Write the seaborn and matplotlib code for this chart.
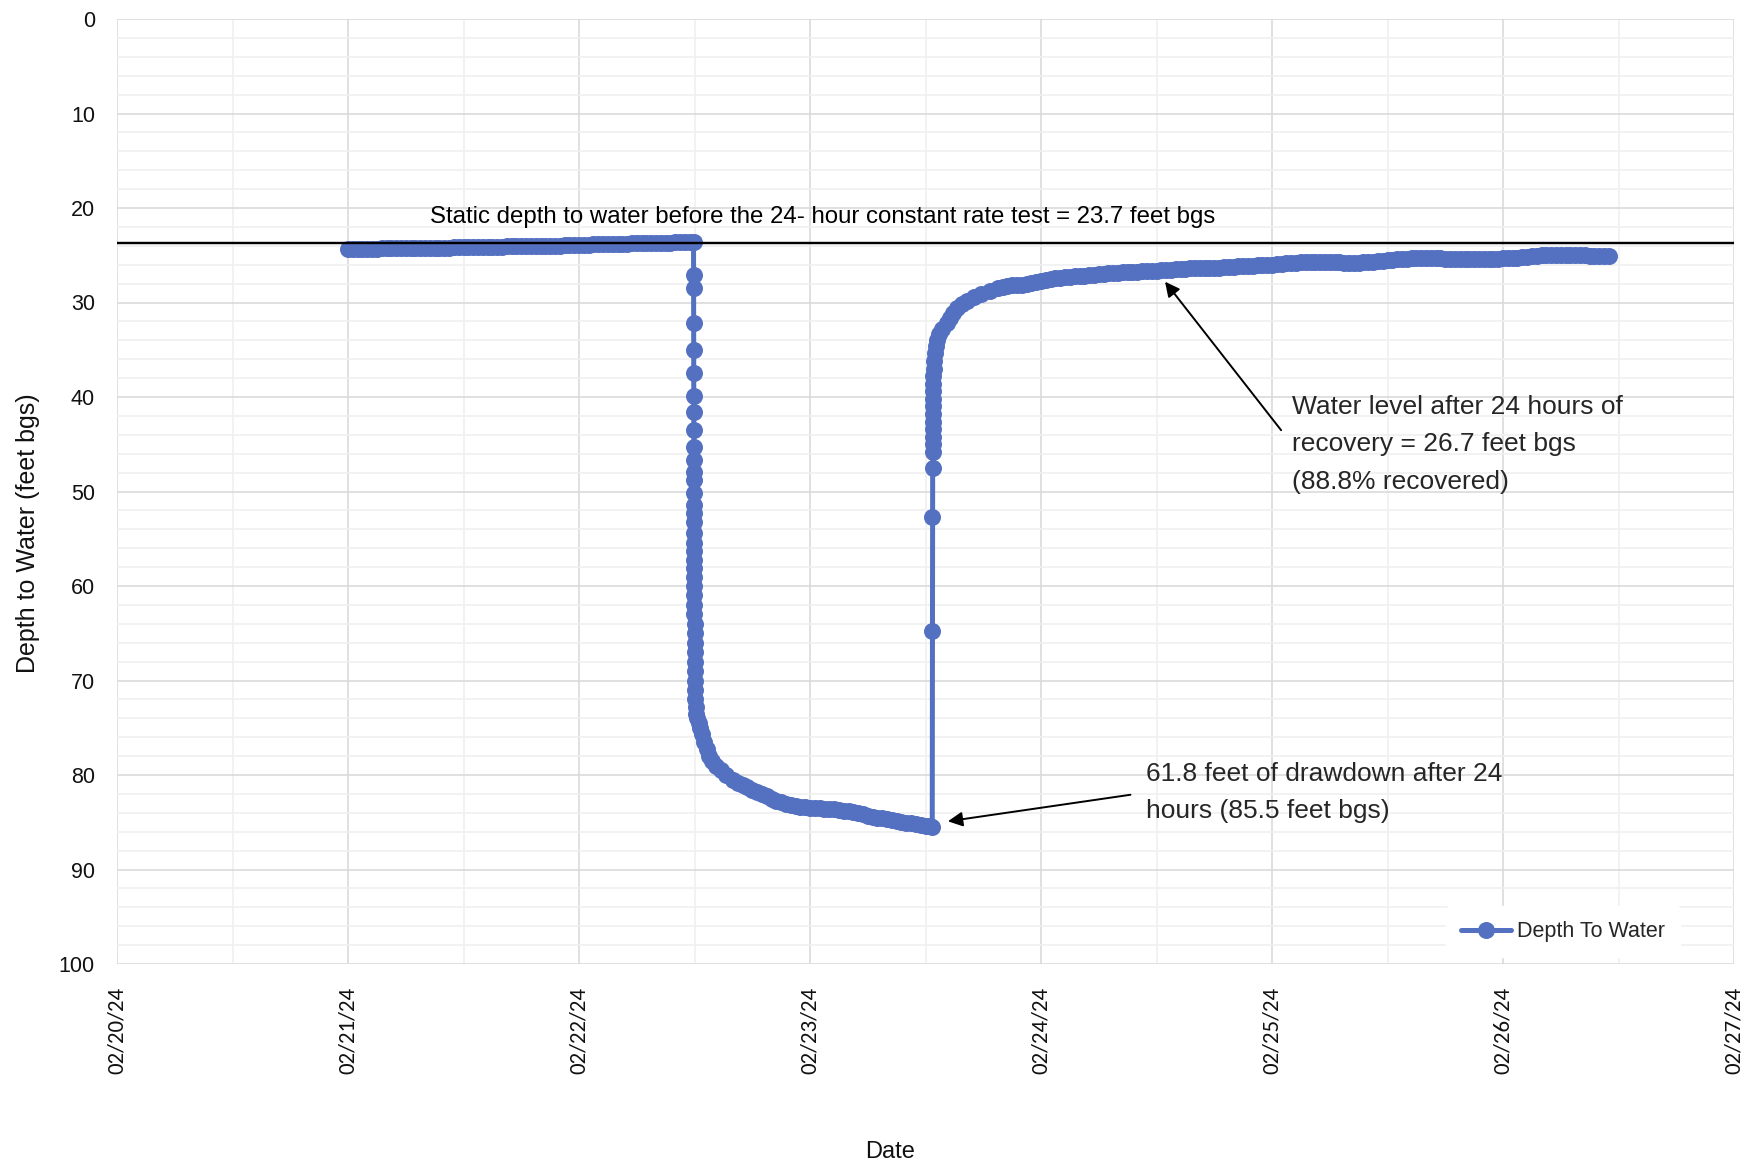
import numpy as np
import pandas as pd
import matplotlib
matplotlib.use("Agg")
import matplotlib.pyplot as plt
import matplotlib.dates as mdates
from matplotlib.ticker import MultipleLocator
import seaborn as sns

# ---------------- data (hours since 2024-02-21 00:00, depth in feet bgs) ----------------
START = "2024-02-21 00:00"

static_hours = [0.0, 0.5, 1.0, 1.5, 2.0, 2.5, 3.0, 3.5, 4.0, 4.5,
                5.0, 5.5, 6.0, 6.5, 7.0, 7.5, 8.0, 8.5, 9.0, 9.5,
                10.0, 10.5, 11.0, 11.5, 12.0, 12.5, 13.0, 13.5, 14.0, 14.5,
                15.0, 15.5, 16.0, 16.5, 17.0, 17.5, 18.0, 18.5, 19.0, 19.5,
                20.0, 20.5, 21.0, 21.5, 22.0, 22.5, 23.0, 23.5, 24.0, 24.5,
                25.0, 25.5, 26.0, 26.5, 27.0, 27.5, 28.0, 28.5, 29.0, 29.5,
                30.0, 30.5, 31.0, 31.5, 32.0, 32.5, 33.0, 33.5, 34.0, 34.5,
                35.0, 35.5, 35.9]
static_depth = [24.3, 24.3, 24.3, 24.3, 24.3, 24.3, 24.3, 24.2, 24.2, 24.2,
                24.2, 24.2, 24.2, 24.2, 24.2, 24.2, 24.2, 24.2, 24.2, 24.2,
                24.2, 24.2, 24.1, 24.1, 24.1, 24.1, 24.1, 24.1, 24.1, 24.1,
                24.1, 24.1, 24.1, 24.0, 24.0, 24.0, 24.0, 24.0, 24.0, 24.0,
                24.0, 24.0, 24.0, 24.0, 24.0, 23.9, 23.9, 23.9, 23.9, 23.9,
                23.9, 23.8, 23.8, 23.8, 23.8, 23.8, 23.8, 23.8, 23.8, 23.7,
                23.7, 23.7, 23.7, 23.7, 23.7, 23.7, 23.7, 23.7, 23.6, 23.6,
                23.6, 23.6, 23.6]

pumping_hours = [35.910, 35.912, 35.914, 35.916, 35.918, 35.920, 35.922, 35.924, 35.926, 35.928,
                 35.930, 35.933, 35.936, 35.939, 35.942, 35.945, 35.950, 35.955,
                 35.960, 35.965, 35.970, 35.975, 35.980, 35.985, 35.990, 35.995, 36.000, 36.005,
                 36.010, 36.015, 36.020, 36.030, 36.040,
                 36.05, 36.07, 36.12, 36.2, 36.3, 36.45, 36.57, 36.75, 37.0, 37.25,
                 37.5, 37.85, 38.25, 38.75, 39.3,
                 40.0, 40.5, 41.0, 41.5, 42.0, 42.5, 43.0, 43.5, 44.0, 44.5,
                 45.0, 45.5, 46.0, 46.5, 47.0, 47.5, 48.0, 48.5, 49.0, 49.5,
                 50.0, 50.5, 51.0, 51.5, 52.0, 52.5, 53.0, 53.5, 54.0, 54.5,
                 55.0, 55.5, 56.0, 56.5, 57.0, 57.5, 58.0, 58.5, 59.0, 59.5,
                 60.0, 60.5, 60.7]
pumping_depth = [27.1, 28.5, 32.2, 35.0, 37.5, 39.9, 41.6, 43.5, 45.3, 46.7,
                 47.9, 48.8, 50.2, 51.4, 52.3, 53.2, 54.4, 55.4,
                 56.3, 57.2, 58.1, 59.0, 60.0, 61.0, 62.0, 63.0, 64.0, 65.0,
                 66.0, 67.0, 68.0, 69.0, 70.0,
                 71.0, 72.0, 72.8, 73.5, 74.0, 74.5, 75.0, 75.7, 76.5, 77.3,
                 78.0, 78.5, 79.0, 79.5, 80.0,
                 80.5, 80.8, 81.1, 81.3, 81.6, 81.8, 82.0, 82.2, 82.5, 82.7,
                 82.9, 83.1, 83.2, 83.3, 83.4, 83.4, 83.5, 83.5, 83.5, 83.6,
                 83.6, 83.6, 83.7, 83.8, 83.8, 83.9, 84.0, 84.1, 84.3, 84.4,
                 84.5, 84.6, 84.7, 84.8, 84.9, 85.0, 85.1, 85.1, 85.2, 85.3,
                 85.4, 85.4, 85.5]

recovery_hours = [60.72, 60.725, 60.73, 60.735, 60.74, 60.745, 60.75, 60.755, 60.76, 60.77,
                  60.78, 60.79, 60.80, 60.82, 60.84, 60.88, 60.95, 61.05, 61.16, 61.4,
                  61.7, 62.2, 62.5, 62.86, 63.3, 63.8, 64.3, 65.0, 65.8, 66.7,
                  67.5, 68.0, 68.5, 69.0, 69.5, 70.0, 70.5, 71.0, 71.5, 72.0,
                  72.5, 73.0, 73.5, 74.0, 74.5, 75.0, 75.5, 76.0, 76.5, 77.0,
                  77.5, 78.0, 78.5, 79.0, 79.5, 80.0, 80.5, 81.0, 81.5, 82.0,
                  82.5, 83.0, 83.5, 84.0, 84.5, 85.0, 85.5, 86.0, 86.5, 87.0,
                  87.5, 88.0, 88.5, 89.0, 89.5, 90.0, 90.5, 91.0, 91.5, 92.0,
                  92.5, 93.0, 93.5, 94.0, 94.5, 95.0, 95.5, 96.0, 96.5, 97.0,
                  97.5, 98.0, 98.5, 99.0, 99.5, 100.0, 100.5, 101.0, 101.5, 102.0,
                  102.5, 103.0, 103.5, 104.0, 104.5, 105.0, 105.5, 106.0, 106.5, 107.0,
                  107.5, 108.0, 108.5, 109.0, 109.5, 110.0, 110.5, 111.0, 111.5, 112.0,
                  112.5, 113.0, 113.5, 114.0, 114.5, 115.0, 115.5, 116.0, 116.5, 117.0,
                  117.5, 118.0, 118.5, 119.0, 119.5, 120.0, 120.5, 121.0, 121.5, 122.0,
                  122.5, 123.0, 123.5, 124.0, 124.5, 125.0, 125.5, 126.0, 126.5, 127.0,
                  127.5, 128.0, 128.5, 129.0, 129.5, 130.0, 130.5, 131.0]
recovery_depth = [64.8, 52.7, 47.5, 45.8, 45.0, 44.2, 43.4, 42.6, 41.8, 41.0,
                  40.2, 39.4, 38.6, 37.8, 37.0, 36.2, 35.3, 34.6, 34.0, 33.3,
                  32.8, 32.2, 31.6, 31.1, 30.6, 30.2, 29.8, 29.4, 29.1, 28.8,
                  28.5, 28.4, 28.3, 28.2, 28.1, 28.1, 28.0, 27.9, 27.8, 27.7,
                  27.6, 27.5, 27.4, 27.4, 27.3, 27.3, 27.2, 27.2, 27.2, 27.1,
                  27.1, 27.0, 27.0, 26.9, 26.9, 26.9, 26.8, 26.8, 26.8, 26.8,
                  26.7, 26.7, 26.7, 26.7, 26.6, 26.6, 26.6, 26.5, 26.5, 26.5,
                  26.4, 26.4, 26.4, 26.4, 26.3, 26.3, 26.3, 26.2, 26.2, 26.2,
                  26.1, 26.1, 26.1, 26.1, 26.0, 26.0, 26.0, 26.0, 25.9, 25.9,
                  25.8, 25.8, 25.8, 25.7, 25.7, 25.7, 25.7, 25.7, 25.7, 25.7,
                  25.7, 25.7, 25.8, 25.8, 25.8, 25.8, 25.7, 25.7, 25.7, 25.6,
                  25.6, 25.5, 25.5, 25.4, 25.4, 25.4, 25.3, 25.3, 25.3, 25.3,
                  25.3, 25.3, 25.3, 25.4, 25.4, 25.4, 25.4, 25.4, 25.4, 25.4,
                  25.4, 25.4, 25.4, 25.4, 25.4, 25.3, 25.3, 25.3, 25.3, 25.2,
                  25.2, 25.1, 25.1, 25.0, 25.0, 25.0, 25.0, 25.0, 25.0, 25.0,
                  25.0, 25.0, 25.0, 25.1, 25.1, 25.1, 25.1, 25.1]

STATIC_LEVEL = 23.7
X_START, X_END = "2024-02-20", "2024-02-27"
SERIES_LABEL = "Depth To Water"
STATIC_TEXT = "Static depth to water before the 24- hour constant rate test = 23.7 feet bgs"
DRAWDOWN_TEXT = "61.8 feet of drawdown after 24\nhours (85.5 feet bgs)"
RECOVERY_TEXT = "Water level after 24 hours of\nrecovery = 26.7 feet bgs\n(88.8% recovered)"

# ---------------- frame ----------------
hours = np.array(static_hours + pumping_hours + recovery_hours, dtype=float)
depth = np.array(static_depth + pumping_depth + recovery_depth, dtype=float)
df = pd.DataFrame({
    "Date": pd.Timestamp(START) + pd.to_timedelta(hours, unit="h"),
    "Depth": depth,
})

sns.set_theme(style="white")
NARROW = ["Liberation Sans Narrow", "Liberation Sans", "DejaVu Sans"]
DATEFONT = ["Carlito", "Lato", "DejaVu Sans"]
plt.rcParams["font.family"] = NARROW

BLUE = "#5470C1"
DPI = 100
fig = plt.figure(figsize=(17.52, 11.68), dpi=DPI)
W, H = 1752, 1168
L, R, T, B = 117, 1734, 19, 964
ax = fig.add_axes([L / W, 1 - B / H, (R - L) / W, (B - T) / H])

px = 72 / DPI  # points per pixel
sns.lineplot(data=df, x="Date", y="Depth", ax=ax, color=BLUE, marker="o",
             markersize=17 * px, markeredgewidth=0, linewidth=5 * px,
             estimator=None, sort=False, label=SERIES_LABEL)

ax.axhline(STATIC_LEVEL, color="black", linewidth=2.4 * px, zorder=3)

# axes
ax.set_xlim(pd.Timestamp(X_START), pd.Timestamp(X_END))
ax.set_ylim(100, 0)
ax.yaxis.set_major_locator(MultipleLocator(10))
ax.yaxis.set_minor_locator(MultipleLocator(2))
ax.xaxis.set_major_locator(mdates.DayLocator())
ax.xaxis.set_minor_locator(mdates.HourLocator(byhour=[12]))
ax.xaxis.set_major_formatter(mdates.DateFormatter("%m/%d/%y"))

ax.grid(True, which="major", color="#D9D9D9", linewidth=1.6 * px)
ax.grid(True, which="minor", color="#F0F0F0", linewidth=1.6 * px)
ax.set_axisbelow(True)
for s in ax.spines.values():
    s.set_visible(False)

ax.tick_params(axis="both", which="both", length=0)
ax.tick_params(axis="y", pad=22 * px, labelsize=15.5, labelcolor="#111111")
ax.tick_params(axis="x", pad=23 * px, labelsize=16.5, labelcolor="#111111")
for lab in ax.get_xticklabels():
    lab.set_rotation(90)
    lab.set_family(DATEFONT)
    lab.set_va("top")
    lab.set_ha("center")

ax.set_xlabel("")
ax.set_ylabel("")
fig.text(28 / W, 1 - 533 / H, "Depth to Water (feet bgs)", rotation=90,
         ha="center", va="center", fontsize=18, color="#111111")
fig.text(890 / W, 1 - 1152 / H, "Date", ha="center", va="center",
         fontsize=17, color="#111111")

# annotations
t0 = pd.Timestamp(X_START)
def xd(days):
    return mdates.date2num(t0 + pd.to_timedelta(days, unit="D"))

ax.text(xd(3.056), 20.9, STATIC_TEXT, ha="center", va="center", fontsize=17.3, color="black")

arrow = dict(arrowstyle="-|>", color="black", lw=1.4, mutation_scale=22,
             shrinkA=9, shrinkB=0)
ax.annotate(DRAWDOWN_TEXT, xy=(xd(3.597), 84.9), xytext=(xd(4.455), 81.85),
            ha="left", va="center", fontsize=19, linespacing=1.7,
            arrowprops=dict(arrow, relpos=(0, 0.5)))
ax.annotate(RECOVERY_TEXT, xy=(xd(4.537), 27.8), xytext=(xd(5.087), 45.0),
            ha="left", va="center", fontsize=19, linespacing=1.7,
            arrowprops=dict(arrow, relpos=(0, 0.5)))

leg = ax.legend(loc="center", bbox_to_anchor=(0.8945, 0.034), frameon=True,
                fontsize=15.5, handlelength=2.3, handletextpad=0.3,
                borderpad=0.7, borderaxespad=0)
leg.get_frame().set_facecolor("white")
leg.get_frame().set_edgecolor("white")
leg.get_frame().set_alpha(1)

fig.savefig("out.png", dpi=DPI)
